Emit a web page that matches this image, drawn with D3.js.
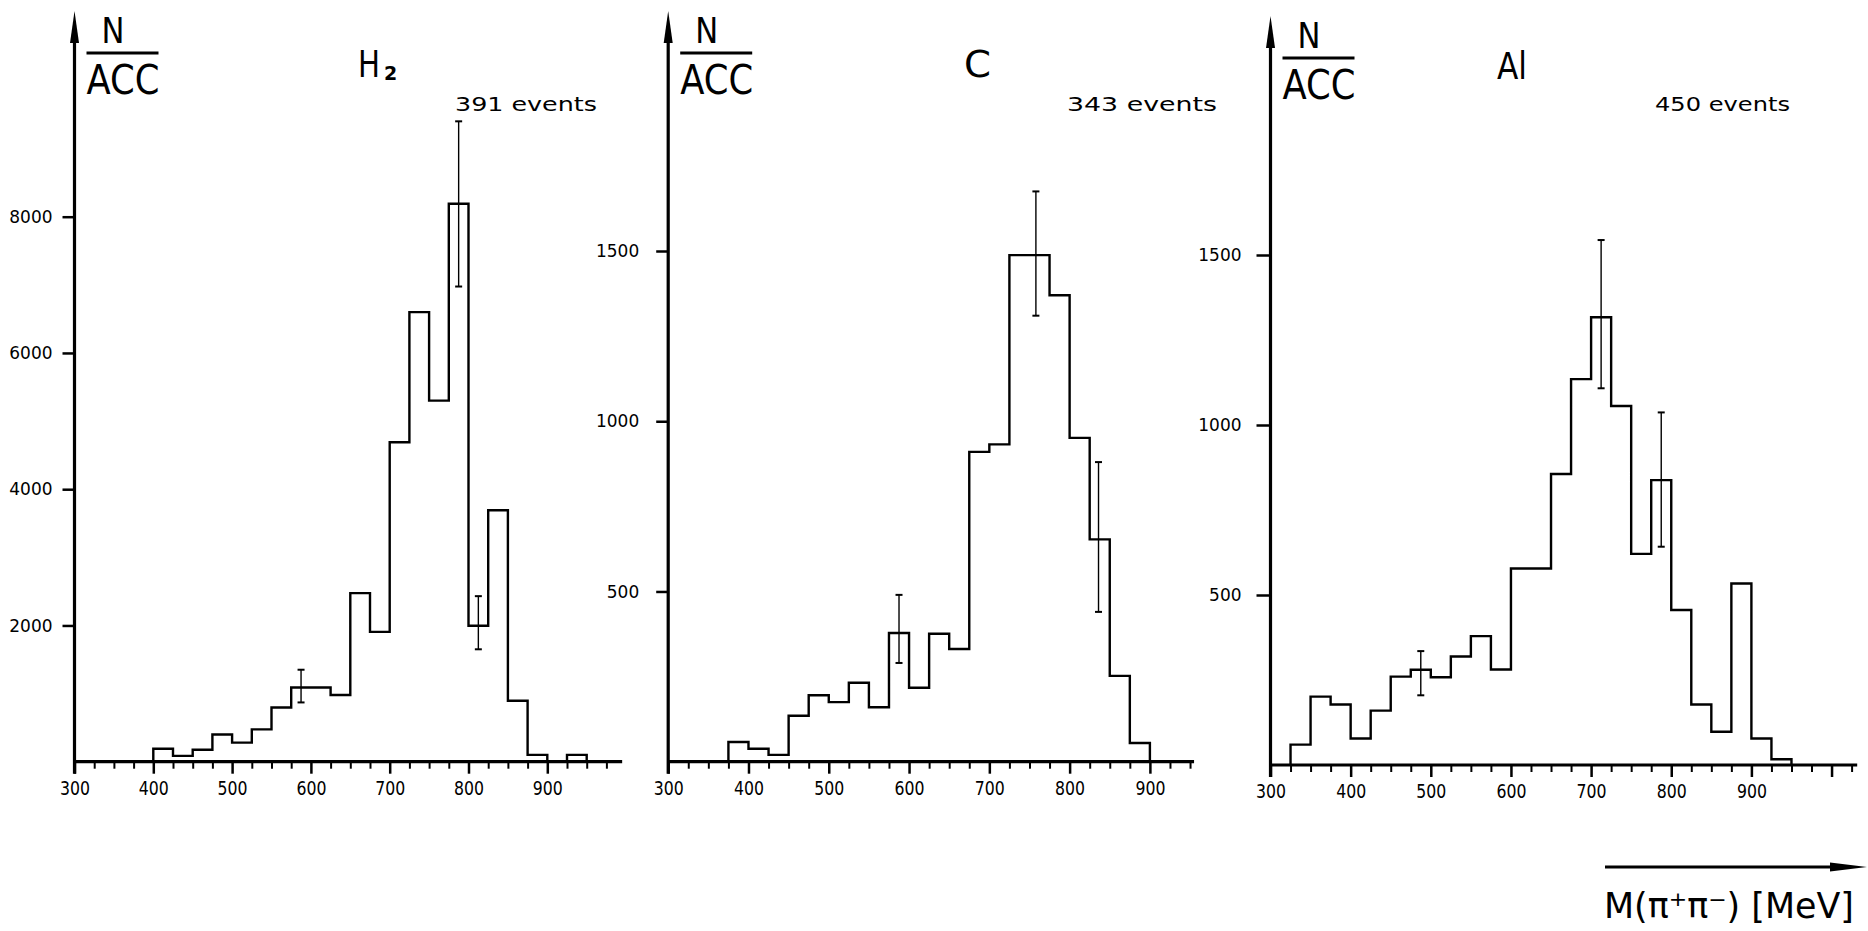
<!DOCTYPE html>
<html><head><meta charset="utf-8">
<script src="https://cdn.jsdelivr.net/npm/d3@7"></script>
<style>
html,body{margin:0;padding:0;background:#fff;}
svg{display:block;}
text{font-family:"DejaVu Sans","Liberation Sans",sans-serif;fill:#000;}
</style></head><body>
<svg id="chart" width="1868" height="931"></svg>
<script>
// ---------------- data ----------------
const binWidth = 25; // MeV
const xTickLabels = [300, 400, 500, 600, 700, 800, 900];

const h2Start = 400;
const h2Values = [190, 85, 175, 400, 280, 475, 795, 1090, 1090, 980, 2475, 1905, 4690, 6600, 5300, 8190, 1995, 3690, 895, 100, 0, 100];
const h2ErrX = [587.5, 787.5, 812.5];
const h2ErrLo = [870, 6975, 1650];
const h2ErrHi = [1350, 9400, 2430];
const h2YTicks = [2000, 4000, 6000, 8000];

const cStart = 375;
const cValues = [58, 38, 20, 135, 195, 175, 232, 160, 378, 217, 376, 331, 910, 932, 1488, 1488, 1370, 951, 653, 252, 55];
const cErrX = [587.5, 758, 836];
const cErrLo = [290, 1310, 440];
const cErrHi = [490, 1675, 880];
const cYTicks = [500, 1000, 1500];

const alStart = 325;
const alValues = [60, 201, 178, 78, 160, 260, 280, 258, 319, 379, 281, 578, 578, 856, 1135, 1317, 1056, 621, 838, 456, 178, 98, 534, 78, 17];
const alErrX = [487.5, 712.5, 787.5];
const alErrLo = [205, 1108, 642];
const alErrHi = [335, 1544, 1037];
const alYTicks = [500, 1000, 1500];

const titles = ["H", "C", "Al"];
const eventLabels = ["391 events", "343 events", "450 events"];
const yLabelTop = "N", yLabelBottom = "ACC";
const xAxisLabel = "M(π⁺π⁻) [MeV]";

// ---------------- layout ----------------
const panels = [
  {values: h2Values, start: h2Start, errX: h2ErrX, errLo: h2ErrLo, errHi: h2ErrHi, yTicks: h2YTicks,
   xRange: [74.5, 547.3], base: 761.7, yMax: 8000, yTopPx: 216.7, xEnd: 995, tickPad: 10, yTickLen: 12,
   head: 0, title: {x: 358, w: 22, sub: true}, ev: {x: 455, w: 142}},
  {values: cValues, start: cStart, errX: cErrX, errLo: cErrLo, errHi: cErrHi, yTicks: cYTicks,
   xRange: [668.2, 1149.9], base: 761.7, yMax: 1500, yTopPx: 251, xEnd: 955, tickPad: 17, yTickLen: 12,
   head: 0, title: {x: 964, w: 27, sub: false}, ev: {x: 1067, w: 150}},
  {values: alValues, start: alStart, errX: alErrX, errLo: alErrLo, errHi: alErrHi, yTicks: alYTicks,
   xRange: [1270.5, 1751.4], base: 765, yMax: 1500, yTopPx: 255, xEnd: 1032, tickPad: 15, yTickLen: 14,
   head: 5, title: {x: 1497, w: 30, sub: false}, ev: {x: 1655, w: 135}}
];

const svg = d3.select("#chart");
svg.append("rect").attr("width", 1868).attr("height", 931).attr("fill", "#fff");

panels.forEach((p, pi) => {
  const g = svg.append("g");
  const x = d3.scaleLinear().domain([300, 900]).range(p.xRange);
  const y = d3.scaleLinear().domain([0, p.yMax]).range([p.base, p.yTopPx]);
  const ax = x(300);

  // x axis line
  g.append("line").attr("x1", ax).attr("x2", x(p.xEnd)).attr("y1", p.base).attr("y2", p.base)
    .attr("stroke", "#000").attr("stroke-width", 3.2);
  // minor ticks (every 25 MeV)
  const minor = d3.range(325, p.xEnd, 25).filter(v => v % 100 !== 0);
  const major = d3.range(300, p.xEnd + 1, 100);
  g.append("g").attr("transform", `translate(0,${p.base})`)
    .call(d3.axisBottom(x).tickValues(minor).tickSize(7).tickSizeOuter(0))
    .call(s => s.select(".domain").remove())
    .call(s => s.selectAll("text").remove())
    .call(s => s.selectAll("line").attr("stroke", "#000").attr("stroke-width", 2));
  const gx = g.append("g").attr("transform", `translate(0,${p.base})`)
    .call(d3.axisBottom(x).tickValues(major).tickSize(12).tickSizeOuter(0).tickFormat(d3.format("d")))
    .call(s => s.select(".domain").remove())
    .call(s => s.selectAll("line").attr("stroke", "#000").attr("stroke-width", 2.5));
  gx.selectAll("text").filter(d => !xTickLabels.includes(d)).remove();
  gx.selectAll("text").attr("y", 33).attr("dy", 0)
    .attr("font-size", 19).attr("font-family", "DejaVu Sans")
    .attr("textLength", 30).attr("lengthAdjust", "spacingAndGlyphs");

  // y axis line + arrow
  const topY = 11 + p.head;
  g.append("line").attr("x1", ax).attr("x2", ax).attr("y1", topY + 20).attr("y2", p.base + 12)
    .attr("stroke", "#000").attr("stroke-width", 3.2);
  g.append("path").attr("d", `M${ax},${topY} L${ax - 4.5},${topY + 32} L${ax + 4.5},${topY + 32} Z`)
    .attr("fill", "#000");
  const gy = g.append("g").attr("transform", `translate(${ax},0)`)
    .call(d3.axisLeft(y).tickValues(p.yTicks).tickSize(p.yTickLen).tickPadding(p.tickPad)
      .tickSizeOuter(0).tickFormat(d3.format("d")))
    .call(s => s.select(".domain").remove())
    .call(s => s.selectAll("line").attr("stroke", "#000").attr("stroke-width", 2.5));
  gy.selectAll("text").attr("font-size", 18).attr("font-family", "DejaVu Sans")
    .attr("textLength", d => String(d).length * 10.8).attr("lengthAdjust", "spacingAndGlyphs");

  // histogram step outline
  const pts = [[p.start, 0]];
  p.values.forEach((v, i) => {
    pts.push([p.start + i * binWidth, v]);
    pts.push([p.start + (i + 1) * binWidth, v]);
  });
  pts.push([p.start + p.values.length * binWidth, 0]);
  g.append("path").datum(pts)
    .attr("d", d3.line().x(d => x(d[0])).y(d => y(d[1])))
    .attr("fill", "none").attr("stroke", "#000").attr("stroke-width", 2.4).attr("stroke-linejoin", "miter");

  // error bars
  p.errX.forEach((ex, i) => {
    const cx = x(ex);
    g.append("line").attr("x1", cx).attr("x2", cx).attr("y1", y(p.errLo[i])).attr("y2", y(p.errHi[i]))
      .attr("stroke", "#000").attr("stroke-width", 1.4);
    [p.errLo[i], p.errHi[i]].forEach(v => {
      g.append("line").attr("x1", cx - 3.5).attr("x2", cx + 3.5).attr("y1", y(v)).attr("y2", y(v))
        .attr("stroke", "#000").attr("stroke-width", 2);
    });
  });

  // N / ACC label
  const lx = ax + 12;
  g.append("text").attr("x", lx + 15).attr("y", 43 + p.head).attr("font-size", 36)
    .attr("textLength", 23).attr("lengthAdjust", "spacingAndGlyphs").text(yLabelTop);
  g.append("line").attr("x1", lx).attr("x2", lx + 72).attr("y1", 53 + p.head).attr("y2", 53 + p.head)
    .attr("stroke", "#000").attr("stroke-width", 3);
  g.append("text").attr("x", lx).attr("y", 94 + p.head).attr("font-size", 41)
    .attr("textLength", 73).attr("lengthAdjust", "spacingAndGlyphs").text(yLabelBottom);

  // title
  g.append("text").attr("x", p.title.x).attr("y", 77 + p.head * 0.4).attr("font-size", 37)
    .attr("textLength", p.title.w).attr("lengthAdjust", "spacingAndGlyphs").text(titles[pi]);
  if (p.title.sub) {
    g.append("text").attr("x", p.title.x + 26).attr("y", 80).attr("font-size", 19)
      .attr("font-weight", "bold").text("2");
  }
  // events
  g.append("text").attr("x", p.ev.x).attr("y", 111).attr("font-size", 19)
    .attr("textLength", p.ev.w).attr("lengthAdjust", "spacingAndGlyphs").text(eventLabels[pi]);
});

// bottom x-axis label with arrow
svg.append("line").attr("x1", 1605).attr("x2", 1840).attr("y1", 867).attr("y2", 867)
  .attr("stroke", "#000").attr("stroke-width", 3);
svg.append("path").attr("d", "M1867,867 L1830,862.5 L1830,871.5 Z").attr("fill", "#000");
svg.append("text").attr("x", 1604).attr("y", 918).attr("font-size", 35)
  .attr("textLength", 250).attr("lengthAdjust", "spacingAndGlyphs").text(xAxisLabel);
</script>
</body></html>
